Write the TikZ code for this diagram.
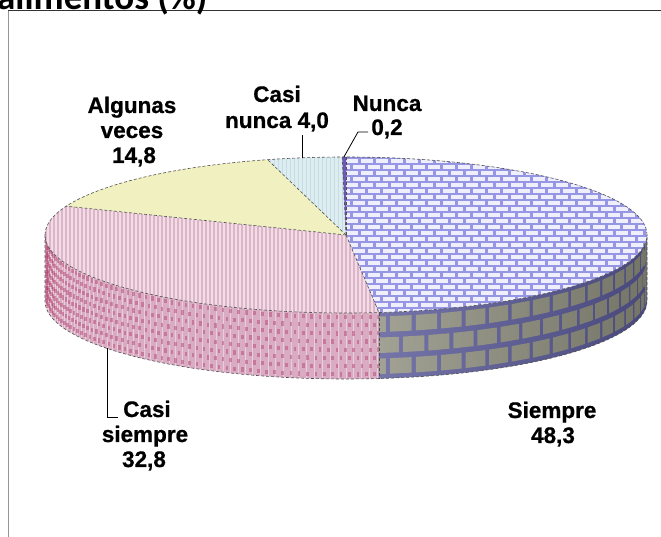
\documentclass[tikz,border=0pt]{standalone}
\usepackage{fontspec}
\setmainfont{Liberation Sans}
\newfontfamily\titlefont{Carlito}
\newfontfamily\lblfont{Liberation Sans}[BoldFeatures={FakeBold=0.7}]
\definecolor{sieMortar}{RGB}{150,150,228}
\definecolor{sieBrick}{RGB}{238,238,252}
\definecolor{sieSideMortar}{RGB}{88,88,152}
\definecolor{sieSideBrick}{RGB}{142,142,126}
\definecolor{csTop}{RGB}{222,180,200}
\definecolor{csSide}{RGB}{218,172,195}
\definecolor{csDot}{RGB}{175,60,105}
\definecolor{algTop}{RGB}{240,240,192}
\definecolor{cnTop}{RGB}{222,238,240}
\definecolor{cnLine}{RGB}{196,220,228}
\definecolor{nunTop}{RGB}{110,90,180}
\definecolor{edgeGray}{RGB}{80,80,80}
\begin{document}
\begin{tikzpicture}[x=1pt,y=1pt,
  edge/.style={draw=edgeGray, densely dashed, line width=0.6pt},
  lbl/.style={font=\lblfont\bfseries\fontsize{22.5}{26}\selectfont, inner sep=0pt, anchor=base},
  leader/.style={draw=black, line width=0.8pt},
  frameline/.style={line width=1pt}]
\useasboundingbox (0,0) rectangle (661,537);
% frame
\draw[frameline, draw={rgb,255:red,150;green,150;blue,150}] (8.5,526) -- (8.5,0);
\draw[frameline, draw={rgb,255:red,50;green,50;blue,50}] (8,526) -- (661,526);
% title (cut at top, as in the reference)
\node[font=\titlefont\bfseries\fontsize{37}{40}\selectfont, inner sep=0pt, anchor=base west] (title) at (-3,527) {alimentos (\%)};

\begin{scope}[shift={(346,302)}]
% ---------- side: Casi siempre
\begin{scope}
\clip (180:301 and 78) arc[start angle=180,end angle=276.29,x radius=301,y radius=78] -- ++(0,-66) arc[start angle=276.29,end angle=180,x radius=301,y radius=78] -- cycle;
\fill[csSide] (-310,-160) rectangle (40,10);
\foreach \a in {180,181.5,...,278}{\draw[white,opacity=.4,line width=1pt] (\a:301 and 78) -- ++(0,-66);}
\foreach \k in {0,...,7}{
  \pgfmathsetmacro\da{2+8.2*\k}
  \pgfmathsetmacro\off{mod(\k,2)*0.8}
  \foreach \j in {0,...,62}{
    \pgfmathsetmacro\aa{180+\off+1.6*\j}
    \fill[csDot,opacity=.45] ([yshift=-\da]\aa:301 and 78) rectangle ++(2.6,-4.2);
  }}
\end{scope}
% ---------- side: Siempre
\begin{scope}
\clip (276.29:301 and 78) arc[start angle=276.29,end angle=360,x radius=301,y radius=78] -- ++(0,-66) arc[start angle=360,end angle=276.29,x radius=301,y radius=78] -- cycle;
\fill[sieSideMortar] (0,-160) rectangle (320,10);
\foreach \k in {0,1,2}{
  \pgfmathsetmacro\da{4+21*\k}
  \pgfmathsetmacro\db{\da+15.5}
  \pgfmathsetmacro\off{mod(\k,2)*2.5}
  \foreach \j in {0,...,19}{
    \pgfmathsetmacro\aa{268+\off+5*\j+0.4}
    \pgfmathsetmacro\ab{\aa+4.2}
    \fill[sieSideBrick] ([yshift=-\da]\aa:301 and 78) -- ([yshift=-\da]\ab:301 and 78) -- ([yshift=-\db]\ab:301 and 78) -- ([yshift=-\db]\aa:301 and 78) -- cycle;
  }}
\shade[left color=white, right color=black, opacity=0.18] (30,-160) rectangle (302,10);
\end{scope}
% ---------- top: Siempre
\begin{scope}
\clip (0,0) -- (90:301 and 78) arc[start angle=90,end angle=-83.71,x radius=301,y radius=78] -- cycle;
\fill[sieMortar] (-10,-90) rectangle (310,90);
\foreach \r in {0,...,26}{
  \pgfmathsetmacro\yy{-79+6*\r}
  \pgfmathsetmacro\off{mod(\r,2)*7.5}
  \foreach \c in {0,...,21}{
    \fill[sieBrick] ({-8+\off+15*\c},{\yy+1.2}) rectangle ++(12,3.6);
  }}
\end{scope}
% ---------- top: Casi siempre
\begin{scope}
\clip (0,0) -- (-83.71:301 and 78) arc[start angle=-83.71,end angle=-201.67,x radius=301,y radius=78] -- cycle;
\fill[csTop] (-310,-90) rectangle (60,90);
\foreach \x in {-306,-302,...,60}{\draw[white,opacity=.55,line width=1.3pt] (\x,-90) -- (\x,90);}
\end{scope}
% ---------- top: Algunas veces
\fill[algTop] (0,0) -- (-201.67:301 and 78) arc[start angle=-201.67,end angle=-254.9,x radius=301,y radius=78] -- cycle;
% ---------- top: Casi nunca
\begin{scope}
\clip (0,0) -- (-254.9:301 and 78) arc[start angle=-254.9,end angle=-269.28,x radius=301,y radius=78] -- cycle;
\fill[cnTop] (-90,-10) rectangle (5,90);
\foreach \x in {-88,-84,...,4}{\draw[cnLine,line width=0.8pt] (\x,-10) -- (\x,90);}
\end{scope}
% ---------- top: Nunca
\fill[nunTop] (0,0) -- (-269.28:301 and 78) arc[start angle=-269.28,end angle=-270,x radius=301,y radius=78] -- cycle;
% ---------- outlines
\draw[edge] (0,0) ellipse [x radius=301, y radius=78];
\draw[edge] (0,0) -- (90:301 and 78);
\draw[edge] (0,0) -- (-83.71:301 and 78);
\draw[edge] (0,0) -- (-201.67:301 and 78);
\draw[edge] (0,0) -- (-254.9:301 and 78);
\draw[edge] (0,0) -- (-269.28:301 and 78);
\draw[edge] (180:301 and 78) -- ++(0,-66) arc[start angle=180,end angle=360,x radius=301,y radius=78] -- ++(0,66);
\draw[edge] (276.29:301 and 78) -- ++(0,-66);
% leader anchors
\coordinate (cnTip) at (98.4:301 and 78);
\coordinate (nuTip) at (90.4:301 and 78);
\coordinate (csTip) at ([yshift=-66]217.45:301 and 78);
\end{scope}

% ---------- labels
\node[lbl] (alg1) at (132,424) {Algunas};
\node[lbl] (alg2) at (132,399) {veces};
\node[lbl] (alg3) at (134,374) {14,8};
\node[lbl] (cn1) at (277,435) {Casi};
\node[lbl] (cn2) at (277,409) {nunca 4,0};
\node[lbl] (nu1) at (387,426) {Nunca};
\node[lbl] (nu2) at (387,402) {0,2};
\node[lbl] (cs1) at (147,120) {Casi};
\node[lbl] (cs2) at (145,95) {siempre};
\node[lbl] (cs3) at (144,70) {32,8};
\node[lbl] (si1) at (552,119) {Siempre};
\node[lbl] (si2) at (553,94) {48,3};

% ---------- leaders
\coordinate (cnEnd) at (302,402);
\coordinate (nuBend) at (358,405);
\coordinate (nuEnd) at (368,405);
\coordinate (csBend) at (107,120);
\coordinate (csEnd) at (118,120);
\draw[leader] (cnTip) -- (cnTip |- cnEnd);
\draw[leader] (nuTip) -- (nuBend) -- (nuEnd);
\draw[leader] (csTip) -- (csTip |- csBend) -- (csEnd);
\end{tikzpicture}
\end{document}
